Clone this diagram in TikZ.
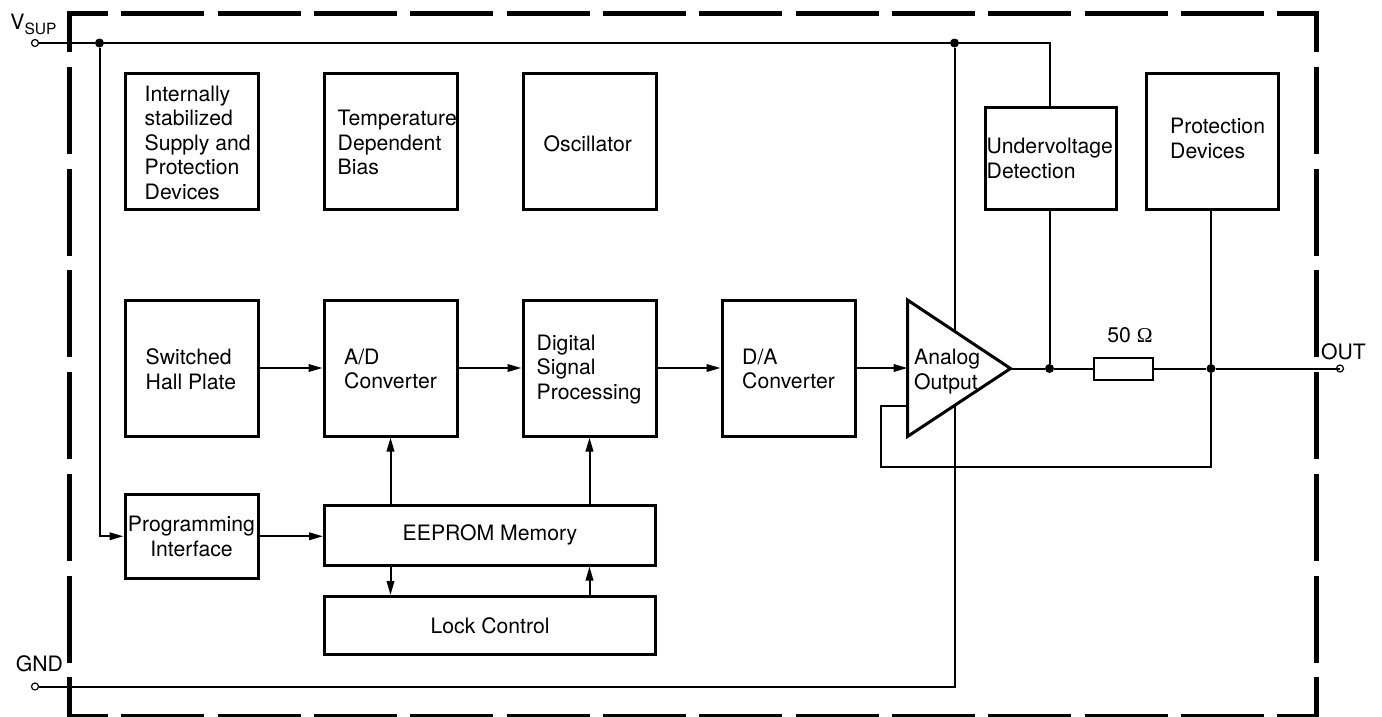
\documentclass[tikz,border=0pt]{standalone}
\usepackage{fontspec}
\setmainfont{TeX Gyre Heros}
\newfontfamily\ohmfont{Liberation Serif}
\usetikzlibrary{positioning,arrows.meta}

\tikzset{
    blockbox/.style={draw, line width=3pt, inner sep=0pt, minimum width=133pt, minimum height=136pt},
    widebox/.style={blockbox, minimum width=331pt, minimum height=60pt},
    blocktext/.style={anchor=west, align=left, inner sep=0pt, yshift=-1pt, font=\fontsize{21.2}{24.5}\selectfont},
    centertext/.style={align=center, font=\fontsize{21.2}{24.5}\selectfont},
    wire/.style={line width=2pt},
    arrowwire/.style={wire, -{Triangle[length=14pt,width=7.5pt]}},
    junction/.style={circle, fill=black, inner sep=0pt, minimum size=9pt},
    terminal/.style={circle, draw, line width=1.2pt, inner sep=0pt, minimum size=7pt},
    framehoriz/.style={line width=5pt, dash pattern=on 83pt off 13.33pt, dash phase=42pt},
    framevert/.style={line width=5pt, dash pattern=on 87pt off 14.75pt, dash phase=46pt}
}

\begin{document}
\begin{tikzpicture}[x=1pt, y=-1pt]
    \useasboundingbox (0,0) rectangle (1382,716);

    % outer frame
    \draw[framehoriz] (67,13.5) -- (1319,13.5);
    \draw[framehoriz] (67,716) -- (1319,716);
    \draw[framevert] (69.5,11) -- (69.5,718);
    \draw[framevert] (1316.5,11) -- (1316.5,718);

    % supply rails
    \node[terminal] (vsup) at (35,43) {};
    \node[terminal] (gnd) at (35,686.5) {};
    \node[junction] (jprog) at (99.5,43) {};
    \node[junction] (jamp) at (954.5,43) {};
    \coordinate (railend) at (1051,43);
    \coordinate (gndend) at (954.5,686.5);
    \draw[wire] (vsup) -- (jprog) -- (jamp) -- (railend);
    \draw[wire] (gnd) -- (gndend) -- (jamp);

    % top row
    \node[blockbox] (supply) at (192,141.5) {};
    \node[blockbox] (tempbias) at (390.5,141.5) {};
    \node[blockbox] (osc) at (589.5,141.5) {};
    \node[blockbox, minimum width=131.5pt, minimum height=102pt] (uv) at (1050.75,158.5) {};
    \node[blockbox, minimum width=132pt] (prot) at (1212.5,141.5) {};

    % signal row
    \node[blockbox] (hall) at (192,368) {};
    \node[blockbox] (adc) at (390.5,368) {};
    \node[blockbox] (dsp) at (589.5,368) {};
    \node[blockbox] (dac) at (788.5,368) {};

    % bottom row
    \node[blockbox, minimum height=84pt, centertext] (prog) at (191.5,536.25) {Programming\\Interface};
    \node[widebox, centertext] (eeprom) at (490,535) {\raisebox{-2pt}{EEPROM Memory}};
    \node[widebox, minimum height=58pt, centertext] (lock) at (490,625.5) {Lock Control};

    % amplifier
    \coordinate (ampa) at (907.5,300);
    \coordinate (ampb) at (907.5,436.5);
    \coordinate (ampc) at (1010.5,368.5);
    \draw[line width=3pt, fill=white, line join=miter] (ampa) -- (ampc) -- (ampb) -- cycle;

    % block texts
    \node[blocktext] (supplytext) at ([xshift=20.5pt]supply.west) {Internally\\stabilized\\Supply and\\Protection\\Devices};
    \node[blocktext] (temptext) at ([xshift=15pt]tempbias.west) {Temperature\\Dependent\\Bias};
    \node[blocktext] (osctext) at ([xshift=22pt,yshift=-1.5pt]osc.west) {Oscillator};
    \node[blocktext] (uvtext) at ([xshift=3pt,yshift=1pt]uv.west) {Undervoltage\\Detection};
    \node[blocktext] (prottext) at ([xshift=25pt,yshift=4pt]prot.west) {Protection\\Devices};
    \node[blocktext] (halltext) at ([xshift=21.5pt]hall.west) {Switched\\Hall Plate};
    \node[blocktext] (adctext) at ([xshift=21.5pt]adc.west) {A/D\\Converter};
    \node[blocktext] (dsptext) at ([xshift=15pt,yshift=-0.5pt]dsp.west) {Digital\\Signal\\Processing};
    \node[blocktext] (dactext) at ([xshift=21.5pt]dac.west) {D/A\\Converter};
    \node[blocktext] (amptext) at (914,370.5) {Analog\\Output};

    % signal path
    \draw[arrowwire] (hall) -- (adc);
    \draw[arrowwire] (adc) -- (dsp);
    \draw[arrowwire] (dsp) -- (dac);
    \draw[arrowwire] (dac) -- (dac -| ampa);
    \draw[arrowwire] (jprog) -- (jprog |- prog) -- (prog);
    \draw[arrowwire] (prog) -- (prog -| eeprom.west);
    \draw[arrowwire] (eeprom.north -| adc) -- (adc);
    \draw[arrowwire] (eeprom.north -| dsp) -- (dsp);
    \draw[arrowwire] (eeprom.south -| adc) -- (lock.north -| adc);
    \draw[arrowwire] (lock.north -| dsp) -- (eeprom.south -| dsp);

    % output stage
    \node[junction] (juv) at (1049.5,368.5) {};
    \node[junction] (jprot) at (1211,368.5) {};
    \node[draw, line width=2pt, inner sep=0pt, minimum width=59.5pt, minimum height=22pt] (res) at (1123.25,368.5) {};
    \node[terminal] (out) at (1340,368.5) {};
    \coordinate (fbleft) at (881,406);
    \coordinate (fbdown) at (881,466.5);
    \draw[wire] (ampc) -- (juv) -- (res) -- (jprot) -- (out.center);
    \draw[wire] (juv) -- (juv |- uv.south);
    \draw[wire] (juv |- uv.north) -- (juv |- railend);
    \draw[wire] (jprot) -- (jprot |- prot.south);
    \draw[wire] (jprot) -- (jprot |- fbdown) -- (fbdown) -- (fbleft) -- (fbleft -| ampa);

    % pin labels
    \node[centertext] (vsuplabel) at (33.5,24) {V\fontsize{15.5}{15.5}\selectfont\raisebox{-5pt}{SUP}};
    \node[centertext] (gndlabel) at (39.5,664) {GND};
    \node[centertext] (outlabel) at (1343.5,351.5) {OUT};
    \node[centertext] (reslabel) at (1130,335) {50 {\ohmfont Ω}};
\end{tikzpicture}
\end{document}
